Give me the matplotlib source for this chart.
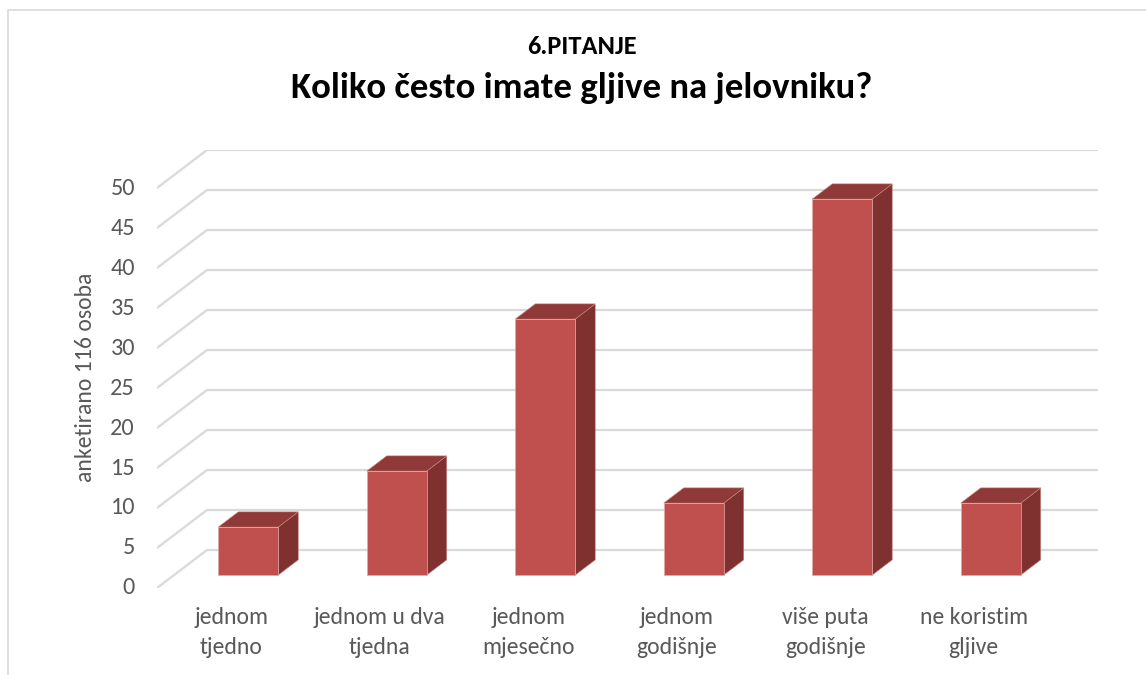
import matplotlib.pyplot as plt
from matplotlib.patches import Rectangle, Polygon

# podaci
kategorije = ["jednom\ntjedno", "jednom u dva\ntjedna", "jednom\nmjesečno",
              "jednom\ngodišnje", "više puta\ngodišnje", "ne koristim\ngljive"]
vrijednosti = [6, 13, 32, 9, 47, 9]
oznake_y = [0, 5, 10, 15, 20, 25, 30, 35, 40, 45, 50]

plt.rcParams['font.family'] = ['Carlito', 'Lato', 'DejaVu Sans']

fig = plt.figure(figsize=(11.46, 6.75), dpi=100)
ax = fig.add_axes([157 / 1146, 87 / 675, 941 / 1146, 438 / 675])
ax.set_xlim(-0.5, 5.837)
ax.set_ylim(0, 54.75)
ax.axis('off')

# dubina "3D" prikaza (kosa projekcija)
DX = 50 / 148.5
DY = 38 / 8
f1, f2 = 0.34, 0.74
n = len(kategorije)

# mreža
for t in oznake_y:
    ax.plot([-0.5, -0.5 + DX, n - 0.5 + DX], [t, t + DY, t + DY],
            color='#D9D9D9', lw=1.6, zorder=1, solid_capstyle='butt')
    ax.text(-0.5 - 22 / 148.5, t, str(t), ha='right', va='center',
            fontsize=17.5, color='#595959')

# stupci
hw = 0.202
ddx, ddy = (f2 - f1) * DX, (f2 - f1) * DY
for i, v in enumerate(vrijednosti):
    cx = i + f1 * DX
    y0 = f1 * DY
    ax.add_patch(Polygon([(cx + hw, y0), (cx + hw + ddx, y0 + ddy),
                          (cx + hw + ddx, y0 + v + ddy), (cx + hw, y0 + v)],
                         closed=True, facecolor='#7F3130', edgecolor='#C98482', lw=0.4, zorder=2))
    ax.add_patch(Polygon([(cx - hw, y0 + v), (cx + hw, y0 + v),
                          (cx + hw + ddx, y0 + v + ddy), (cx - hw + ddx, y0 + v + ddy)],
                         closed=True, facecolor='#8F3A38', edgecolor='#C98482', lw=0.4, zorder=2))
    ax.add_patch(Rectangle((cx - hw, y0), 2 * hw, v, facecolor='#C0504D',
                           edgecolor='#E0A9A7', lw=0.5, zorder=3))

# oznake kategorija
for i, k in enumerate(kategorije):
    for j, red in enumerate(k.split('\n')):
        ax.text(i, -(30 + 29 * j) / 8, red, ha='center', va='center',
                fontsize=17, color='#595959', clip_on=False)

ax.text(-0.5 - 72 / 148.5, (588 - 377) / 8, "anketirano 116 osoba", rotation=90,
        ha='center', va='center', fontsize=17, color='#595959')

fig.text(582 / 1146, 1 - 47 / 675, "6.PITANJE", ha='center', va='center',
         fontsize=19, fontweight='bold', color='black')
fig.text(582 / 1146, 1 - 88 / 675, "Koliko često imate gljive na jelovniku?",
         ha='center', va='center', fontsize=26.5, fontweight='bold', color='black')

# okvir
fig.patches.append(Rectangle((7.5 / 1146, -0.1), 2, 1 - 10 / 675 + 0.1, fill=False,
                             edgecolor='#D9D9D9', lw=1.2, transform=fig.transFigure))

fig.savefig('out.png', dpi=100)
